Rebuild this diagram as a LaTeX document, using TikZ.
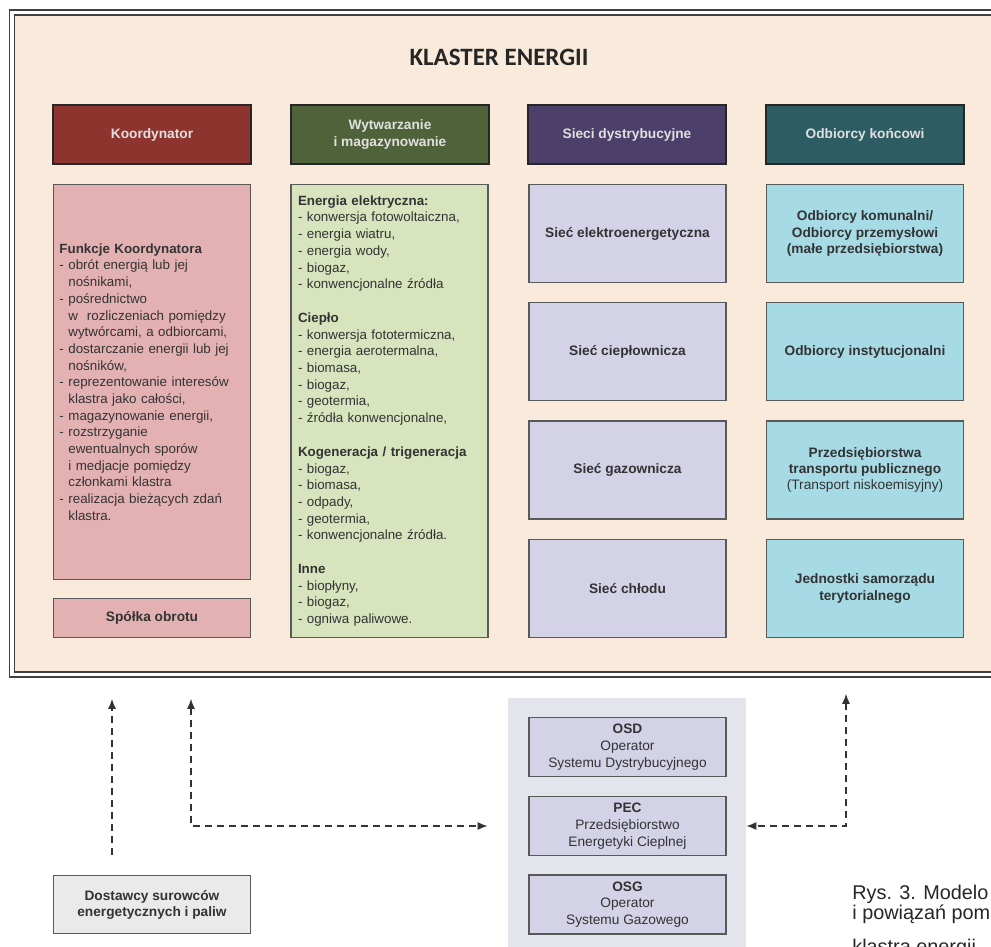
\documentclass[tikz,border=0pt]{standalone}
\usepackage{fontspec}
\setmainfont{Liberation Sans}
\newfontfamily\klfont{Carlito}
\usepackage{xcolor}
\usepackage{tikz}
\usetikzlibrary{arrows.meta,positioning,calc}
\definecolor{klbg}{RGB}{249,234,219}
\definecolor{kolred}{RGB}{142,52,47}
\definecolor{kolgreen}{RGB}{79,98,57}
\definecolor{kolviolet}{RGB}{76,64,106}
\definecolor{kolteal}{RGB}{45,93,99}
\definecolor{kolpink}{RGB}{228,177,179}
\definecolor{kolsage}{RGB}{215,228,189}
\definecolor{kollav}{RGB}{212,210,230}
\definecolor{kolsky}{RGB}{166,218,228}
\definecolor{kolgray}{RGB}{234,234,234}
\definecolor{kolgrp}{RGB}{228,229,236}
\tikzset{
  klframe/.style = {rectangle, draw=black!75, line width=0.85pt, double=white,
                    double distance=2pt, fill=klbg, inner sep=0pt},
  kltitle/.style = {font=\klfont\bfseries\fontsize{14.2}{17}\selectfont, text=black!85},
  klhead/.style  = {rectangle, draw=black!85, line width=1.3pt, minimum width=3.96cm,
                    minimum height=1.18cm, align=center, text=white!88!black,
                    font=\bfseries\fontsize{7.8}{9.2}\selectfont},
  klbody/.style  = {rectangle, draw=black!65, line width=0.85pt, minimum width=3.94cm,
                    align=center, text=black!80, font=\bfseries\fontsize{7.8}{9.2}\selectfont},
  kllist/.style  = {klbody, align=left, font=\fontsize{7.6}{9.5}\selectfont},
  klop/.style    = {klbody, fill=kollav, minimum height=1.18cm,
                    font=\fontsize{7.8}{9.6}\selectfont},
  klgroup/.style = {rectangle, fill=kolgrp, inner sep=0pt},
  kllink/.style  = {draw=black!80, line width=0.75pt, dash pattern=on 1.4mm off 1mm,
                    >={Latex[length=2mm,width=1.6mm]}},
  klcap/.style   = {font=\fontsize{11.3}{13}\selectfont, text=black!85, inner sep=0pt,
                    anchor=base west},
}

\begin{document}
\begin{tikzpicture}[x=0.2mm, y=-0.2mm]
  \useasboundingbox (0,0) rectangle (991,946);
  \fill[white] (0,0) rectangle (991,946);

  \node[klframe, minimum width=19.96cm, minimum height=13.24cm] (klaster) at (511,343.5) {};
  \node[kltitle] (title) at (499,57) {KLASTER ENERGII};

  \node[klhead, fill=kolred]    (hkor) at (152,134.5) {Koordynator};
  \node[klhead, fill=kolgreen]  (hwyt) at (390,134.5) {Wytwarzanie\\i magazynowanie};
  \node[klhead, fill=kolviolet] (hsie) at (627,134.5) {Sieci dystrybucyjne};
  \node[klhead, fill=kolteal]   (hodb) at (865,134.5) {Odbiorcy końcowi};

  \node[kllist, fill=kolpink, minimum height=7.9cm, text width=3.7cm] (kfun) at (152,382)
       {\textbf{Funkcje Koordynatora}\\
        - obrót energią lub jej\\
        \phantom{- }nośnikami,\\
        - pośrednictwo\\
        \phantom{- }w\ \ rozliczeniach pomiędzy\\
        \phantom{- }wytwórcami, a odbiorcami,\\
        - dostarczanie energii lub jej\\
        \phantom{- }nośników,\\
        - reprezentowanie interesów\\
        \phantom{- }klastra jako całości,\\
        - magazynowanie energii,\\
        - rozstrzyganie\\
        \phantom{- }ewentualnych sporów\\
        \phantom{- }i medjacje pomiędzy\\
        \phantom{- }członkami klastra\\
        - realizacja bieżących zdań\\
        \phantom{- }klastra.};
  \node[klbody, fill=kolpink, minimum height=0.78cm] (spolka) at (152,618) {Spółka obrotu};

  \node[kllist, fill=kolsage, minimum height=9.06cm, text width=3.66cm] (gen) at (389.5,411)
       {\textbf{Energia elektryczna:}\\
        - konwersja fotowoltaiczna,\\
        - energia wiatru,\\
        - energia wody,\\
        - biogaz,\\
        - konwencjonalne źródła\\[9.7pt]
        \textbf{Ciepło}\\
        - konwersja fototermiczna,\\
        - energia aerotermalna,\\
        - biomasa,\\
        - biogaz,\\
        - geotermia,\\
        - źródła konwencjonalne,\\[9.7pt]
        \textbf{Kogeneracja / trigeneracja}\\
        - biogaz,\\
        - biomasa,\\
        - odpady,\\
        - geotermia,\\
        - konwencjonalne źródła.\\[9.7pt]
        \textbf{Inne}\\
        - biopłyny,\\
        - biogaz,\\
        - ogniwa paliwowe.};

  \node[klbody, fill=kollav, minimum height=1.96cm] (selek) at (627.5,233.5) {Sieć elektroenergetyczna};
  \node[klbody, fill=kollav, minimum height=1.96cm] (sciep) at (627.5,351.5) {Sieć ciepłownicza};
  \node[klbody, fill=kollav, minimum height=1.96cm] (sgaz)  at (627.5,470)   {Sieć gazownicza};
  \node[klbody, fill=kollav, minimum height=1.96cm] (schl)  at (627.5,588.5) {Sieć chłodu};

  \node[klbody, fill=kolsky, minimum height=1.96cm] (okom) at (865,233.5)
       {Odbiorcy komunalni/\\Odbiorcy przemysłowi\\(małe przedsiębiorstwa)};
  \node[klbody, fill=kolsky, minimum height=1.96cm] (oins) at (865,351.5) {Odbiorcy instytucjonalni};
  \node[klbody, fill=kolsky, minimum height=1.96cm] (otra) at (865,470)
       {Przedsiębiorstwa\\transportu publicznego\\{\mdseries (Transport niskoemisyjny)}};
  \node[klbody, fill=kolsky, minimum height=1.96cm] (ojst) at (865,588.5)
       {Jednostki samorządu\\terytorialnego};

  \node[klbody, fill=kolgray, minimum height=1.16cm] (dost) at (152,904.5)
       {Dostawcy surowców\\energetycznych i paliw};

  \node[klgroup, minimum width=4.76cm, minimum height=5.24cm] (grp) at (627,829) {};
  \node[klop] (osd) at (627.5,747)   {\textbf{OSD}\\Operator\\Systemu Dystrybucyjnego};
  \node[klop] (pec) at (627.5,826)   {\textbf{PEC}\\Przedsiębiorstwo\\Energetyki Cieplnej};
  \node[klop] (osg) at (627.5,904.5) {\textbf{OSG}\\Operator\\Systemu Gazowego};

  \coordinate (xsup) at (112,0);
  \coordinate (xkor) at (191,0);
  \coordinate (xodb) at (846,0);
  \draw[kllink, ->, shorten <=0.4cm, shorten >=0.47cm] (dost.north -| xsup) -- (klaster.south -| xsup);
  \draw[kllink, <->, shorten <=0.47cm, shorten >=0.4cm] (klaster.south -| xkor) |- (grp.west |- pec);
  \draw[kllink, <->, shorten <=0.37cm] (klaster.south -| xodb) |- (grp.east |- pec);

  \node[klcap] (cap1) at (852,899) {Rys. 3. Modelo};
  \node[klcap] (cap2) at (852,919) {i powiązań pom};
  \node[klcap] (cap3) at (852,953) {klastra energii};
\end{tikzpicture}
\end{document}
